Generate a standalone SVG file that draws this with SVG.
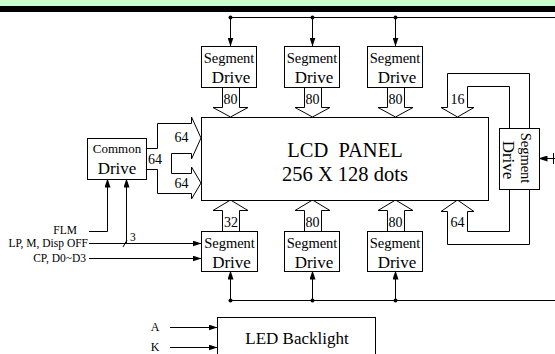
<svg xmlns="http://www.w3.org/2000/svg" width="555" height="354" viewBox="0 0 555 354">
<defs>
<marker id="ah" markerWidth="9" markerHeight="6" refX="8.5" refY="3" orient="auto" markerUnits="userSpaceOnUse">
<path d="M0,0 L9,3 L0,6 z" fill="#000"/>
</marker>
<style>
.box{fill:#fff;stroke:#000;stroke-width:1}
.ln{fill:none;stroke:#000;stroke-width:1}
.ha{fill:#fff;stroke:#000;stroke-width:1}
.t{font-family:"Liberation Serif","Times New Roman",serif;fill:#000}
.seg{font-size:14.5px;text-anchor:middle}
.drv{font-size:17px;text-anchor:middle}
.num{font-size:14px;text-anchor:middle}
.lab{font-size:11.5px;text-anchor:end}
.dot{fill:#000}
</style>
</defs>
<rect x="0" y="0" width="555" height="6" fill="#ccffcc"/>
<rect x="0" y="6" width="555" height="6" fill="#000"/>

<g id="connectors">
<path class="ln" d="M230.5,17.5 H555"/>
<path class="ln" d="M230.5,17.5 V46" marker-end="url(#ah)"/>
<path class="ln" d="M312.5,17.5 V46" marker-end="url(#ah)"/>
<path class="ln" d="M395.5,17.5 V46" marker-end="url(#ah)"/>
<circle class="dot" cx="230.5" cy="17.5" r="2"/>
<circle class="dot" cx="312.5" cy="17.5" r="2"/>
<circle class="dot" cx="395.5" cy="17.5" r="2"/>
<path class="ln" d="M230.5,300.5 H555"/>
<path class="ln" d="M230.5,300.5 V271" marker-end="url(#ah)"/>
<path class="ln" d="M312.5,300.5 V271" marker-end="url(#ah)"/>
<path class="ln" d="M395.5,300.5 V271" marker-end="url(#ah)"/>
<circle class="dot" cx="230.5" cy="300.5" r="2"/>
<circle class="dot" cx="312.5" cy="300.5" r="2"/>
<circle class="dot" cx="395.5" cy="300.5" r="2"/>
<path class="ha" d="M222.5,87 V107.5 H213 L230.5,117 L248,107.5 H239.5 V87"/>
<path class="ha" d="M304.5,87 V107.5 H295 L312.5,117 L330,107.5 H321.5 V87"/>
<path class="ha" d="M387.5,87 V107.5 H378 L395.5,117 L413,107.5 H404.5 V87"/>
<path class="ha" d="M222.5,231 V210.5 H213 L230.5,200 L248,210.5 H239.5 V231"/>
<path class="ha" d="M304.5,231 V210.5 H295 L312.5,200 L330,210.5 H321.5 V231"/>
<path class="ha" d="M387.5,231 V210.5 H378 L395.5,200 L413,210.5 H404.5 V231"/>
<path class="ln" d="M529.5,128 V73.5 H447.5 V107.5 H441 L457.5,117 L474,107.5 H467.5 V86.5 H509.5 V128"/>
<path class="ln" d="M529.5,189 V244.5 H447.5 V211.5 H441 L457.5,200 L474,211.5 H467.5 V231.5 H509.5 V189"/>
<path class="ln" d="M555,158.5 H539" marker-end="url(#ah)"/>
<path class="ln" d="M553.5,153 V164"/>
<path class="ln" d="M146,148.5 H157.5 V123.5 H191.5 V117 L201,138 L191.5,159 V153.5 H171.5 V173.5 H191.5 V167 L201,183 L191.5,199 V193.5 H157.5 V169.5 H146"/>
<path class="ln" d="M89,231.5 H107.5 V179" marker-end="url(#ah)"/>
<path class="ln" d="M126.5,243.5 V179" marker-end="url(#ah)"/>
<path class="ln" d="M89,243.5 H201" marker-end="url(#ah)"/>
<path class="ln" d="M123,247 L127,240"/>
<path class="ln" d="M89,258.5 H201" marker-end="url(#ah)"/>
<path class="ln" d="M170,327.5 H217" marker-end="url(#ah)"/>
<path class="ln" d="M170,347.5 H217" marker-end="url(#ah)"/>
<text class="t num" x="230.5" y="104">80</text>
<text class="t num" x="312.5" y="104">80</text>
<text class="t num" x="395.5" y="104">80</text>
<text class="t num" x="231" y="227">32</text>
<text class="t num" x="312.5" y="227">80</text>
<text class="t num" x="395.5" y="227">80</text>
<text class="t num" x="457.5" y="104">16</text>
<text class="t num" x="457.5" y="227">64</text>
<text class="t num" x="181.5" y="142">64</text>
<text class="t num" x="181.5" y="188">64</text>
<text class="t num" x="155" y="164">64</text>
<text class="t" x="130" y="241" font-size="11.5">3</text>
<text class="t lab" x="77" y="234">FLM</text>
<text class="t lab" x="88" y="247">LP, M, Disp OFF</text>
<text class="t lab" x="86" y="262">CP, D0~D3</text>
<text class="t" x="155" y="331" font-size="12" text-anchor="middle">A</text>
<text class="t" x="155" y="351" font-size="12" text-anchor="middle">K</text>
</g>

<g id="panel">
<rect class="box" x="201.5" y="117.5" width="287" height="83"/>
<text class="t" x="345" y="157" font-size="20.5" text-anchor="middle" xml:space="preserve">LCD  PANEL</text>
<text class="t" x="345" y="181" font-size="20.5" text-anchor="middle">256 X 128 dots</text>
</g>

<g id="seg-top-1">
<rect class="box" x="201.5" y="46.5" width="55" height="41"/>
<text class="t seg" x="229" y="63">Segment</text>
<text class="t drv" x="231" y="83">Drive</text>
</g>
<g id="seg-top-2">
<rect class="box" x="284.5" y="46.5" width="55" height="41"/>
<text class="t seg" x="312" y="63">Segment</text>
<text class="t drv" x="314" y="83">Drive</text>
</g>
<g id="seg-top-3">
<rect class="box" x="367.5" y="46.5" width="55" height="41"/>
<text class="t seg" x="395" y="63">Segment</text>
<text class="t drv" x="397" y="83">Drive</text>
</g>

<g id="seg-bot-1">
<rect class="box" x="201.5" y="231.5" width="56" height="40"/>
<text class="t seg" x="229.5" y="248">Segment</text>
<text class="t drv" x="231.5" y="268">Drive</text>
</g>
<g id="seg-bot-2">
<rect class="box" x="284.5" y="231.5" width="55" height="40"/>
<text class="t seg" x="312" y="248">Segment</text>
<text class="t drv" x="314" y="268">Drive</text>
</g>
<g id="seg-bot-3">
<rect class="box" x="367.5" y="231.5" width="55" height="40"/>
<text class="t seg" x="395" y="248">Segment</text>
<text class="t drv" x="397" y="268">Drive</text>
</g>

<g id="seg-right">
<rect class="box" x="499.5" y="128.5" width="40" height="61"/>
<text class="t seg" transform="translate(521,158) rotate(90)">Segment</text>
<text class="t drv" transform="translate(503,160) rotate(90)">Drive</text>
</g>

<g id="common-drive">
<rect class="box" x="87.5" y="138.5" width="59" height="41"/>
<text class="t" x="117" y="153" font-size="13" text-anchor="middle">Common</text>
<text class="t drv" x="117" y="174">Drive</text>
</g>

<g id="led-backlight">
<rect class="box" x="217.5" y="317.5" width="158" height="50"/>
<text class="t" x="297" y="344" font-size="17" text-anchor="middle">LED Backlight</text>
</g>
</svg>
